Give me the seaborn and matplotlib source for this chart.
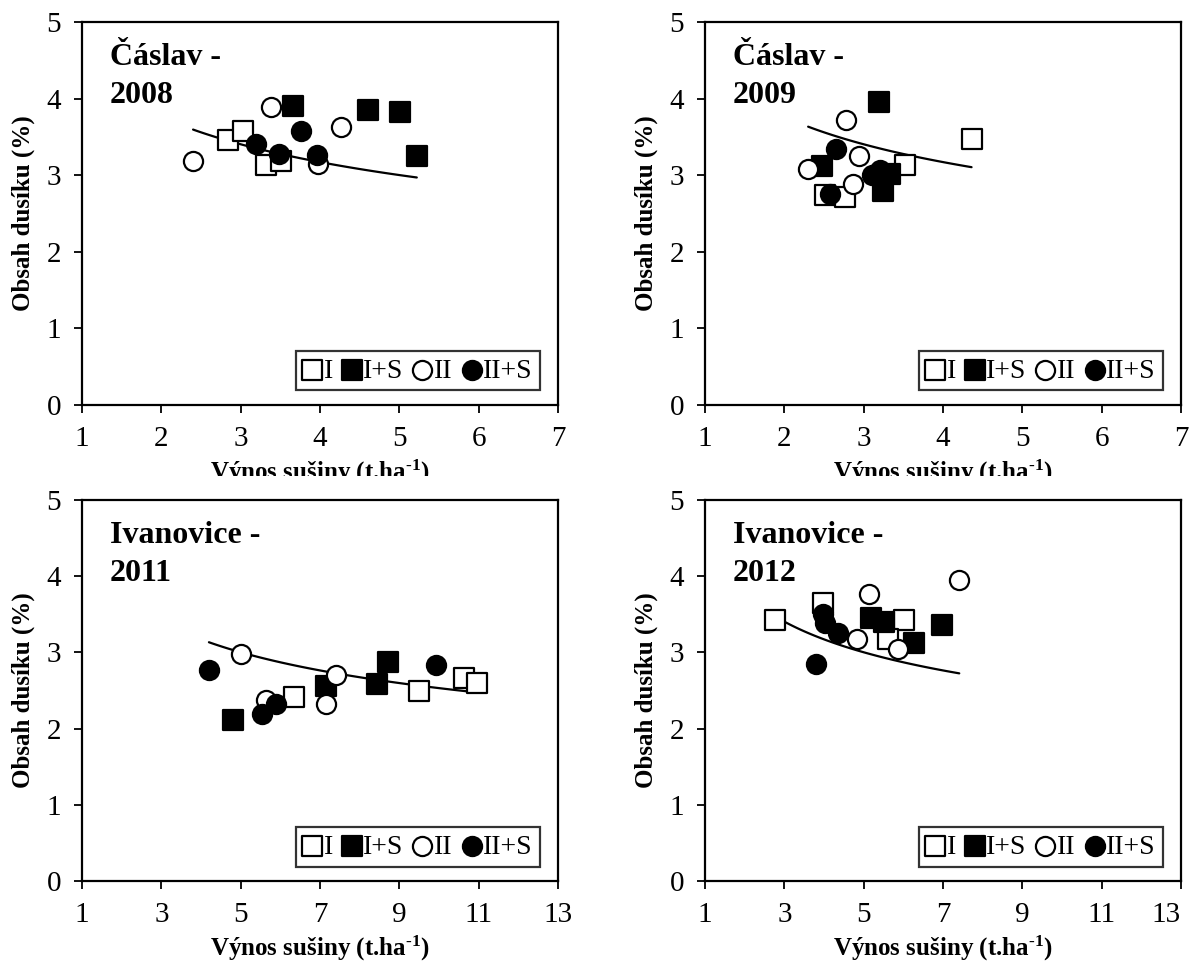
import numpy as np
import pandas as pd
import matplotlib.pyplot as plt
import seaborn as sns
from matplotlib.patches import Rectangle

sns.set_style("ticks")
plt.rcParams['font.family'] = ['Liberation Serif', 'DejaVu Serif']
plt.rcParams['mathtext.fontset'] = 'custom'
plt.rcParams['mathtext.rm'] = 'Liberation Serif:bold'
plt.rcParams['mathtext.bf'] = 'Liberation Serif:bold'
plt.rcParams['mathtext.default'] = 'bf'
plt.rcParams['text.color'] = 'black'
plt.rcParams['axes.labelcolor'] = 'black'
plt.rcParams['xtick.color'] = 'black'
plt.rcParams['ytick.color'] = 'black'

#data (x = yield t/ha, y = N content %)
groups = ['I', 'I+S', 'II', 'II+S']

#Caslav 2008
c08_I_x = [2.84, 3.03, 3.32, 3.51]
c08_I_y = [3.46, 3.58, 3.13, 3.18]
c08_IS_x = [3.66, 4.60, 5.01, 5.22]
c08_IS_y = [3.90, 3.85, 3.82, 3.25]
c08_II_x = [2.40, 3.38, 4.27, 3.98]
c08_II_y = [3.18, 3.89, 3.63, 3.14]
c08_IIS_x = [3.19, 3.48, 3.76, 3.96]
c08_IIS_y = [3.41, 3.28, 3.58, 3.26]

#Caslav 2009
c09_I_x = [4.36, 3.52, 2.51, 2.77]
c09_I_y = [3.47, 3.13, 2.74, 2.72]
c09_IS_x = [3.19, 2.48, 3.33, 3.24]
c09_IS_y = [3.95, 3.12, 3.02, 2.79]
c09_II_x = [2.78, 2.94, 2.30, 2.87]
c09_II_y = [3.72, 3.25, 3.08, 2.89]
c09_IIS_x = [2.65, 3.21, 3.10, 2.58]
c09_IIS_y = [3.34, 3.07, 3.00, 2.75]

#Ivanovice 2011
i11_I_x = [6.34, 9.49, 10.63, 10.95]
i11_I_y = [2.42, 2.49, 2.67, 2.60]
i11_IS_x = [4.80, 7.14, 8.43, 8.72]
i11_IS_y = [2.11, 2.56, 2.58, 2.88]
i11_II_x = [5.01, 5.64, 7.14, 7.40]
i11_II_y = [2.98, 2.37, 2.32, 2.70]
i11_IIS_x = [4.20, 5.53, 5.89, 9.92]
i11_IIS_y = [2.77, 2.19, 2.32, 2.83]

#Ivanovice 2012
i12_I_x = [2.76, 3.98, 6.02, 5.62]
i12_I_y = [3.43, 3.65, 3.42, 3.17]
i12_IS_x = [5.19, 5.51, 6.97, 6.27]
i12_IS_y = [3.45, 3.40, 3.36, 3.12]
i12_II_x = [5.13, 7.41, 4.82, 5.87]
i12_II_y = [3.76, 3.95, 3.17, 3.04]
i12_IIS_x = [3.98, 4.03, 4.36, 3.80]
i12_IIS_y = [3.50, 3.39, 3.25, 2.85]

#power trend y = a * x^b (same fit in all panels)
trend_a = 4.46
trend_b = -0.246

titles = ['Čáslav -\n2008', 'Čáslav -\n2009', 'Ivanovice -\n2011', 'Ivanovice -\n2012']
xlims = [(1, 7), (1, 7), (1, 13), (1, 13)]
xticks = [[1, 2, 3, 4, 5, 6, 7], [1, 2, 3, 4, 5, 6, 7],
          [1, 3, 5, 7, 9, 11, 13], [1, 3, 5, 7, 9, 11, 13]]

panels = [
    [(c08_I_x, c08_I_y), (c08_IS_x, c08_IS_y), (c08_II_x, c08_II_y), (c08_IIS_x, c08_IIS_y)],
    [(c09_I_x, c09_I_y), (c09_IS_x, c09_IS_y), (c09_II_x, c09_II_y), (c09_IIS_x, c09_IIS_y)],
    [(i11_I_x, i11_I_y), (i11_IS_x, i11_IS_y), (i11_II_x, i11_II_y), (i11_IIS_x, i11_IIS_y)],
    [(i12_I_x, i12_I_y), (i12_IS_x, i12_IS_y), (i12_II_x, i12_II_y), (i12_IIS_x, i12_IIS_y)],
]

markers = {'I': 's', 'I+S': 's', 'II': 'o', 'II+S': 'o'}
faces = {'I': 'white', 'I+S': 'black', 'II': 'white', 'II+S': 'black'}

W, H = 1190, 967
fig = plt.figure(figsize=(W / 100, H / 100), dpi=100)

#axes boxes in pixels: left, right, top, bottom
boxes = [(82, 558, 22, 405), (705, 1181, 22, 405),
         (82, 558, 500, 881), (705, 1181, 500, 881)]

#white block so the lower charts cut the upper x labels like in the original
fig.add_artist(Rectangle((0, 0), 1, (H - 476) / H, transform=fig.transFigure,
                         facecolor='white', edgecolor='none', zorder=1))

for i, (pdata, box) in enumerate(zip(panels, boxes)):
    l, r, t, b = box
    ax = fig.add_axes([l / W, (H - b) / H, (r - l) / W, (b - t) / H])
    ax.set_zorder(0 if i < 2 else 2)
    ax.patch.set_facecolor('white')

    frames = []
    for g, (xs, ys) in zip(groups, pdata):
        frames.append(pd.DataFrame({'x': xs, 'y': ys, 'grp': g}))
    df = pd.concat(frames, ignore_index=True)

    for g in groups:
        sub = df[df['grp'] == g]
        sns.scatterplot(data=sub, x='x', y='y', marker=markers[g], color=faces[g],
                        edgecolor='black', linewidth=1.6, s=190, ax=ax, zorder=3, label=g)

    #trend line over the panel's x range
    xs_line = np.linspace(df['x'].min(), df['x'].max(), 100)
    ys_line = trend_a * xs_line ** trend_b
    sns.lineplot(x=xs_line, y=ys_line, color='black', linewidth=1.6, ax=ax, zorder=2)

    ax.set_xlim(*xlims[i])
    ax.set_ylim(0, 5)
    ax.set_xticks(xticks[i])
    ax.set_yticks([0, 1, 2, 3, 4, 5])
    ax.tick_params(direction='out', length=6, width=1.3, labelsize=21, color='black')
    ax.tick_params(axis='x', pad=9)
    ax.tick_params(axis='y', pad=9)
    for sp in ax.spines.values():
        sp.set_visible(True)
        sp.set_linewidth(1.6)
        sp.set_color('black')

    ax.set_xlabel(r'Výnos sušiny (t.ha$^{\text{-}1}$)', fontsize=18, fontweight='bold', labelpad=4)
    ax.set_ylabel('Obsah dusíku (%)', fontsize=18, fontweight='bold', labelpad=8)

    ax.text(0.059, 0.945, titles[i], transform=ax.transAxes, fontsize=23,
            fontweight='bold', va='top', ha='left', linespacing=1.4)

    if i == 3:
        last = ax.get_xticklabels()[-1]
        last.set_horizontalalignment('right')

    h, lab = ax.get_legend_handles_labels()
    leg = ax.legend(h[:4], lab[:4], ncol=4, loc='lower right', bbox_to_anchor=(0.962, 0.038),
                    fontsize=20, frameon=True, fancybox=False, handletextpad=0.1,
                    columnspacing=0.35, handlelength=0.65, borderpad=0.25, markerscale=1.0,
                    borderaxespad=0)
    leg.get_frame().set_edgecolor('black')
    leg.get_frame().set_linewidth(1.6)

fig.savefig('out.png', dpi=100, facecolor='white')
